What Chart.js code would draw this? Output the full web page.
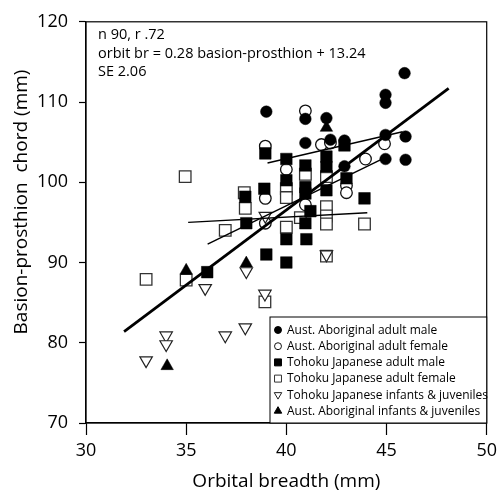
<!DOCTYPE html>
<html>
<head>
<meta charset="utf-8">
<script src="https://cdn.jsdelivr.net/npm/chart.js@4.4.0/dist/chart.umd.min.js"></script>
<style>
  html, body { margin: 0; padding: 0; background: #fff; }
</style>
</head>
<body>
<canvas id="chart" width="502" height="495"></canvas>
<script>
/* ------------------------------
   DATA  [orbital breadth, basion-prosthion chord]
--------------------------------*/

const aborigMale = [[39.0,108.8],[40.95,107.9],[42.0,108.0],[40.95,104.9],[42.2,105.3],[42.9,105.2],
    [42.9,102.0],[44.95,110.9],[44.95,109.9],[44.95,105.9],[45.95,105.7],[44.95,102.9],[45.95,102.8],[45.9,113.6]];

const aborigFemale = [[40.95,108.9],[38.95,104.5],[40.0,101.6],[41.75,104.7],[42.2,104.9],[44.9,104.8],
    [43.95,102.9],[43.0,99.6],[43.0,98.7],[40.95,97.2],[38.95,98.0],[38.95,94.9]];

const tohokuMale = [[38.95,103.6],[40.0,102.9],[40.95,102.1],[40.0,100.25],[42.0,103.2],[42.0,101.9],
    [42.9,104.6],[43.0,100.5],[38.9,99.2],[37.95,98.2],[43.9,98.0],[42.0,99.0],[40.95,99.4],[40.95,98.6],
    [41.2,96.4],[40.95,94.9],[41.0,92.9],[40.0,92.9],[40.0,90.0],[39.0,91.0],[38.0,94.9],[36.05,88.8]];

const tohokuFemale = [[40.95,101.0],[37.9,98.7],[42.0,100.7],[42.0,96.95],[42.0,95.8],[42.0,94.8],
    [42.0,90.8],[40.7,95.6],[40.0,99.2],[40.0,98.1],[40.0,94.4],[43.9,94.8],[37.95,96.75],[36.95,94.0],
    [34.95,100.7],[33.0,87.9],[35.0,87.8],[38.93,85.1]];

const tohokuYoung = [[38.95,95.8],[38.0,88.9],[38.93,86.1],[42.0,91.0],[35.95,86.8],[34.0,80.9],
    [34.0,79.8],[33.0,77.8],[36.95,80.9],[37.95,81.9]];

const aborigYoung = [[42.0,106.8],[38.0,89.9],[35.0,89.0],[34.05,77.1]];

// regression lines, end points
const fitAll = [[31.9,81.4],[48.1,111.7]];
const fitFlat = [[35.1,95.0],[44.04,96.2]];
const fitUpper = [[39.06,102.4],[45.8,106.3]];
const fitLower = [[36.07,92.3],[44.9,103.05]];

const xTicks = [30, 35, 40, 45, 50];
const yTicks = [70, 80, 90, 100, 110, 120];

const legendLabels = [
    "Aust. Aboriginal adult male",
    "Aust. Aboriginal adult female",
    "Tohoku Japanese adult male",
    "Tohoku Japanese adult female",
    "Tohoku Japanese infants & juveniles",
    "Aust. Aboriginal infants & juveniles"
];

const noteLines = ["n 90, r .72", "orbit br = 0.28 basion-prosthion + 13.24", "SE 2.06"];

/* ------------------------------
   CHART
--------------------------------*/

const FONT = '"Open Sans", sans-serif';
Chart.defaults.font.family = FONT;
Chart.defaults.color = "#000";

const pts = arr => arr.map(p => ({ x: p[0], y: p[1] }));

const markers = [
    { pointStyle: "circle", radius: 5.8, bg: "#000", border: "#000", bw: 0.5, rotation: 0 },
    { pointStyle: "circle", radius: 5.8, bg: "#fff", border: "#111", bw: 1.3, rotation: 0 },
    { pointStyle: "rect", radius: 8.2, bg: "#000", border: "#000", bw: 0.5, rotation: 0 },
    { pointStyle: "rect", radius: 8.2, bg: "#fff", border: "#333", bw: 1.3, rotation: 0 },
    { pointStyle: "triangle", radius: 7.2, bg: "#fff", border: "#222", bw: 1.2, rotation: 180 },
    { pointStyle: "triangle", radius: 7.2, bg: "#000", border: "#000", bw: 0.5, rotation: 0 }
];
const groups = [aborigMale, aborigFemale, tohokuMale, tohokuFemale, tohokuYoung, aborigYoung];
const drawOrder = [2, 5, 3, 6, 4, 1];

const pointSets = groups.map((g, i) => ({
    label: legendLabels[i],
    data: pts(g),
    pointStyle: markers[i].pointStyle,
    pointRadius: markers[i].radius,
    pointRotation: markers[i].rotation,
    pointBackgroundColor: markers[i].bg,
    pointBorderColor: markers[i].border,
    pointBorderWidth: markers[i].bw,
    showLine: false,
    order: drawOrder[i]
}));

const lineSet = (d, w) => ({
    data: pts(d), showLine: true, borderColor: "#000", borderWidth: w,
    pointRadius: 0, order: 0
});

const overlay = {
    id: "overlay",
    afterDraw(chart) {
        const ctx = chart.ctx;
        const a = chart.chartArea;
        ctx.save();

        // frame
        ctx.strokeStyle = "#000";
        ctx.lineWidth = 1.2;
        ctx.strokeRect(a.left, a.top, a.right - a.left, a.bottom - a.top);

        // y title
        ctx.fillStyle = "#000";
        ctx.font = "19px " + FONT;
        ctx.textAlign = "center";
        ctx.textBaseline = "middle";
        ctx.save();
        ctx.translate(22, 202);
        ctx.rotate(-Math.PI / 2);
        ctx.fillText("Basion-prosthion  chord (mm)", 0, 0, 300);
        ctx.restore();

        // equation note
        ctx.font = "14.5px " + FONT;
        ctx.textAlign = "left";
        let k = 273 / ctx.measureText(noteLines[1]).width;
        noteLines.forEach((t, i) => {
            ctx.fillText(t, 98, 35 + i * 18.5, ctx.measureText(t).width * k);
        });

        // legend box
        const bx = 270, by = 317;
        ctx.fillStyle = "#fff";
        ctx.fillRect(bx, by, a.right - bx, a.bottom - by);
        ctx.strokeStyle = "#000";
        ctx.lineWidth = 1;
        ctx.strokeRect(bx, by, a.right - bx, a.bottom - by);

        ctx.font = "13px " + FONT;
        k = 201 / ctx.measureText(legendLabels[4]).width;
        legendLabels.forEach((t, i) => {
            const y = 330 + i * 16.2;
            const m = markers[i];
            ctx.fillStyle = m.bg;
            ctx.strokeStyle = m.border;
            Chart.helpers.drawPoint(ctx, {
                pointStyle: m.pointStyle, radius: m.radius * 0.6,
                rotation: m.rotation, borderWidth: 1
            }, 278, y);
            ctx.fillStyle = "#000";
            ctx.fillText(t, 287, y, ctx.measureText(t).width * k);
        });
        ctx.restore();
    }
};

new Chart(document.getElementById("chart"), {
    type: "scatter",
    data: {
        datasets: pointSets.concat([
            lineSet(fitAll, 2.8),
            lineSet(fitFlat, 1.4),
            lineSet(fitUpper, 1.4),
            lineSet(fitLower, 1.4)
        ])
    },
    options: {
        responsive: false,
        animation: false,
        layout: { padding: { top: 16, right: 10, left: 0, bottom: 0 } },
        plugins: { legend: { display: false }, tooltip: { enabled: false } },
        scales: {
            x: {
                min: xTicks[0], max: xTicks[xTicks.length - 1],
                afterBuildTicks: s => { s.ticks = xTicks.map(v => ({ value: v })); },
                afterFit: s => { s.height = 72; },
                ticks: { font: { size: 18 }, padding: 5, color: "#000" },
                grid: { drawOnChartArea: false, tickLength: 12, color: "#000", tickWidth: 1.2 },
                border: { color: "#000", width: 1.2 },
                title: { display: true, text: "Orbital breadth (mm)", font: { size: 19 }, color: "#000",
                         padding: { top: 0, bottom: 2 } }
            },
            y: {
                min: yTicks[0], max: yTicks[yTicks.length - 1],
                afterBuildTicks: s => { s.ticks = yTicks.map(v => ({ value: v })); },
                afterFit: s => { s.width = 86; },
                ticks: { font: { size: 18 }, padding: 11, color: "#000" },
                grid: { drawOnChartArea: false, tickLength: 7, color: "#000", tickWidth: 1.2 },
                border: { color: "#000", width: 1.2 }
            }
        }
    },
    plugins: [overlay]
});
</script>
</body>
</html>
